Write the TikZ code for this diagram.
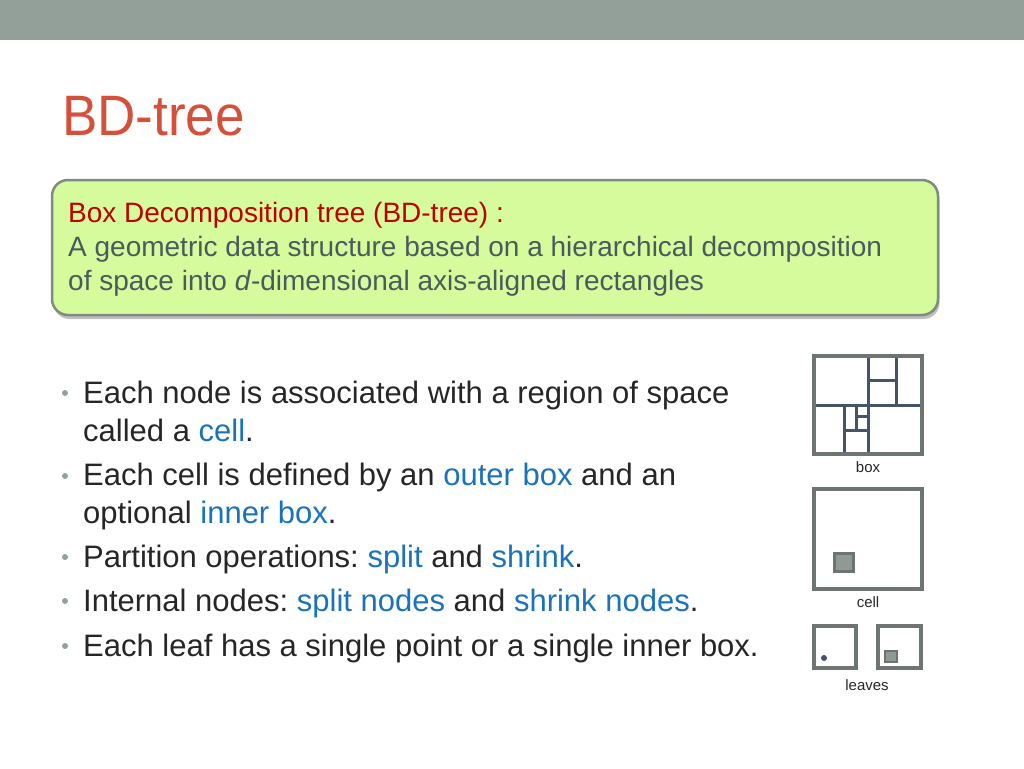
\documentclass[tikz,border=0pt]{standalone}
\usepackage{fontspec}
\setmainfont{Liberation Sans}
\usetikzlibrary{shadows}
\definecolor{headgray}{HTML}{93A09A}
\definecolor{titlered}{HTML}{D4503A}
\definecolor{defred}{HTML}{C00000}
\definecolor{defgray}{HTML}{4B5A5C}
\definecolor{defgreen}{HTML}{D6FB9C}
\definecolor{defedge}{HTML}{7D8C7F}
\definecolor{bodytext}{HTML}{262626}
\definecolor{keyblue}{HTML}{1A72BD}
\definecolor{dotgray}{HTML}{93A09A}
\definecolor{framegray}{HTML}{6D7471}
\definecolor{splitblue}{HTML}{46536A}
\definecolor{fillgray}{HTML}{8F9B92}
\newcommand{\kw}[1]{\textcolor{keyblue}{#1}}
\frenchspacing
\tikzset{
  item/.style={anchor=base west, align=left, inner sep=0pt, text=bodytext,
    font=\fontsize{31}{38}\selectfont},
  bullet/.style={fill=dotgray, circle, inner sep=0pt, minimum size=6pt},
  frame/.style={draw=framegray, line width=3.5pt},
  splitline/.style={draw=splitblue, line width=3pt},
  innerbox/.style={draw=framegray, fill=fillgray, line width=3pt},
  caption/.style={inner sep=0pt, text=bodytext, font=\fontsize{15}{18}\selectfont}
}
\begin{document}
\begin{tikzpicture}[x=1pt,y=-1pt]
  \useasboundingbox (0,0) rectangle (1024,768);
  \fill[headgray] (0,0) rectangle (1024,40);
  \node[anchor=base west, inner sep=0pt, text=titlered,
    font=\fontsize{57}{60}\selectfont] (title) at (62,135) {\scalebox{0.93}[1]{BD-tree}};
  \node[draw=defedge, line width=2.5pt, fill=defgreen, rounded corners=16pt,
    minimum width=886pt, minimum height=135pt,
    drop shadow={shadow xshift=1.5pt, shadow yshift=-4pt, opacity=.5}]
    (def) at (495,247.5) {};
  \node[anchor=base west, align=left, inner sep=0pt, text=defgray,
    font=\fontsize{28}{34}\selectfont] (deftext) at (68,290.5)
    {\textcolor{defred}{Box Decomposition tree (BD-tree) :}\\
     A geometric data structure based on a hierarchical decomposition\\
     of space into \textit{d}-dimensional axis-aligned rectangles};
  \node[item] (i1) at (83,441) {Each node is associated with a region of space\\called a \kw{cell}.};
  \node[item] (i2) at (83,523) {Each cell is defined by an \kw{outer box} and an\\optional \kw{inner box}.};
  \node[item] (i3) at (83,567) {Partition operations: \kw{split} and \kw{shrink}.};
  \node[item] (i4) at (83,611) {Internal nodes: \kw{split nodes} and \kw{shrink nodes}.};
  \node[item] (i5) at (83,656) {Each leaf has a single point or a single inner box.};
  \foreach \y [count=\i] in {393,476,557,601,646}
    \node[bullet] (b\i) at (65,\y) {};
  \begin{scope}[splitline]
    \draw (814,405) -- (922,405);
    \draw (868,356) -- (868,454);
    \draw (896,356) -- (896,405);
    \draw (868,380) -- (896,380);
    \draw (844,405) -- (844,454);
    \draw (844,430) -- (868,430);
    \draw (856,405) -- (856,430);
    \draw (856,416) -- (868,416);
  \end{scope}
  \draw[frame] (814,356) rectangle (922,454);
  \node[caption] (boxlabel) at (868,467) {box};
  \draw[frame] (814,489) rectangle (922,589);
  \draw[innerbox] (834,553) rectangle (853,571);
  \node[caption] (celllabel) at (868,602) {cell};
  \draw[frame] (814,626) rectangle (856,668);
  \fill[splitblue] (824,658) circle (3pt);
  \draw[frame] (878,626) rectangle (921,668);
  \draw[innerbox, line width=2.5pt] (885,651) rectangle (897,662);
  \node[caption] (leaflabel) at (867,685) {leaves};
\end{tikzpicture}
\end{document}
